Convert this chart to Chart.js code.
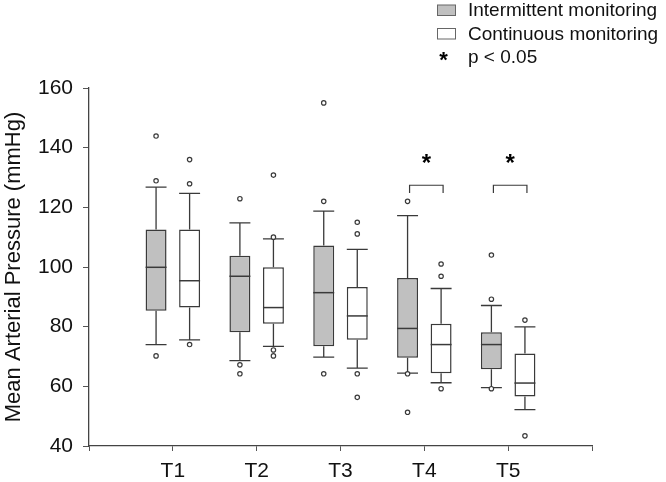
<!DOCTYPE html>
<html>
<head>
<meta charset="utf-8">
<script src="https://cdn.jsdelivr.net/npm/chart.js@4.4.1/dist/chart.umd.min.js"></script>
<style>
  html, body { margin: 0; padding: 0; background: #fff; }
  #wrap { width: 666px; height: 482px; }
</style>
</head>
<body>
<div id="wrap"><canvas id="chart"></canvas></div>
<script>
// categories (time points)
const categories = ['T1', 'T2', 'T3', 'T4', 'T5'];

// Intermittent monitoring box plot values
const intLow    = [74.0, 68.6, 69.8, 64.4, 59.6];
const intQ1     = [85.3, 78.1, 73.4, 69.6, 65.7];
const intMedian = [99.9, 96.9, 91.4, 79.4, 74.0];
const intQ3     = [112.6, 103.8, 107.2, 96.3, 78.1];
const intHigh   = [126.8, 114.8, 118.7, 117.2, 87.1];
const intOutliers = [
  [143.9, 128.9, 70.2],
  [122.9, 67.2, 64.2],
  [155.0, 122.0, 64.2],
  [122.0, 64.2, 51.3],
  [104.0, 89.2, 59.2]
];

// Continuous monitoring box plot values
const conLow    = [75.6, 73.4, 66.1, 61.2, 52.2];
const conQ1     = [86.4, 81.0, 75.6, 64.4, 56.6];
const conMedian = [95.4, 86.4, 83.6, 74.0, 61.1];
const conQ3     = [112.6, 99.9, 93.3, 81.0, 71.0];
const conHigh   = [124.7, 109.4, 105.9, 92.8, 79.9];
const conOutliers = [
  [136.0, 127.9, 74.0],
  [130.8, 110.0, 72.2, 70.2],
  [115.0, 111.1, 64.2, 56.3],
  [101.0, 96.9, 59.2],
  [82.2, 43.4]
];

// significance markers
const sigCategories = ['T4', 'T5'];
const sigBracketTop = 127.4;
const sigBracketLeg = 124.8;

// y axis ticks
const yMin = 40, yMax = 160, yStep = 20;

const FONT = "'Liberation Sans', Arial, sans-serif";
const LINE = '#3a3a3a';
const GRAY = '#c0c0c0';

const boxes = [
  { low: intLow, q1: intQ1, med: intMedian, q3: intQ3, high: intHigh, out: intOutliers },
  { low: conLow, q1: conQ1, med: conMedian, q3: conQ3, high: conHigh, out: conOutliers }
];

const boxPlugin = {
  id: 'boxDetails',
  afterDatasetsDraw(chart) {
    const ctx = chart.ctx;
    const y = chart.scales.y;
    ctx.save();
    ctx.strokeStyle = LINE;
    boxes.forEach((b, d) => {
      const meta = chart.getDatasetMeta(d);
      meta.data.forEach((bar, i) => {
        const x = bar.x, half = bar.width / 2;
        const pLow = y.getPixelForValue(b.low[i]);
        const pHigh = y.getPixelForValue(b.high[i]);
        const pQ1 = y.getPixelForValue(b.q1[i]);
        const pQ3 = y.getPixelForValue(b.q3[i]);
        const pMed = y.getPixelForValue(b.med[i]);
        ctx.lineWidth = 1.3;
        ctx.beginPath();
        ctx.moveTo(x, pQ3); ctx.lineTo(x, pHigh);
        ctx.moveTo(x, pQ1); ctx.lineTo(x, pLow);
        ctx.moveTo(x - half, pHigh); ctx.lineTo(x + half, pHigh);
        ctx.moveTo(x - half, pLow); ctx.lineTo(x + half, pLow);
        ctx.stroke();
        ctx.lineWidth = 1.5;
        ctx.beginPath();
        ctx.moveTo(x - half, pMed); ctx.lineTo(x + half, pMed);
        ctx.stroke();
        ctx.lineWidth = 1.2;
        b.out[i].forEach(v => {
          ctx.beginPath();
          ctx.arc(x, y.getPixelForValue(v), 2.2, 0, Math.PI * 2);
          ctx.fillStyle = '#fff';
          ctx.fill();
          ctx.stroke();
        });
      });
    });

    // significance brackets
    const m0 = chart.getDatasetMeta(0), m1 = chart.getDatasetMeta(1);
    sigCategories.forEach(c => {
      const i = categories.indexOf(c);
      const x1 = m0.data[i].x + 2, x2 = m1.data[i].x + 2;
      const pt = y.getPixelForValue(sigBracketTop);
      const pl = y.getPixelForValue(sigBracketLeg);
      ctx.lineWidth = 1.2;
      ctx.beginPath();
      ctx.moveTo(x1, pl); ctx.lineTo(x1, pt); ctx.lineTo(x2, pt); ctx.lineTo(x2, pl);
      ctx.stroke();
      ctx.fillStyle = '#000';
      ctx.font = 'bold 24px ' + FONT;
      ctx.textAlign = 'center';
      ctx.textBaseline = 'alphabetic';
      ctx.fillText('*', (x1 + x2) / 2, pt - 14);
    });
    ctx.restore();
  }
};

const legendItems = [
  { label: 'Intermittent monitoring', fill: GRAY },
  { label: 'Continuous monitoring', fill: '#fff' },
  { label: 'p < 0.05', star: true }
];

const legendPlugin = {
  id: 'sideLegend',
  afterDraw(chart) {
    const ctx = chart.ctx;
    const textX = 468, boxX = 437.5, top = 10, gap = 23.5;
    ctx.save();
    ctx.font = '19px ' + FONT;
    ctx.textBaseline = 'middle';
    legendItems.forEach((it, k) => {
      const cy = top + k * gap;
      if (it.star) {
        ctx.fillStyle = '#000';
        ctx.font = 'bold 22px ' + FONT;
        ctx.textAlign = 'center';
        ctx.textBaseline = 'alphabetic';
        ctx.fillText('*', boxX + 6, cy + 10);
        ctx.font = '19px ' + FONT;
        ctx.textBaseline = 'middle';
      } else {
        ctx.fillStyle = it.fill;
        ctx.fillRect(boxX, cy - 5, 18, 10.5);
        ctx.strokeStyle = '#666';
        ctx.lineWidth = 1;
        ctx.strokeRect(boxX, cy - 5, 18, 10.5);
      }
      ctx.fillStyle = '#111';
      ctx.textAlign = 'left';
      ctx.fillText(it.label, textX, cy + 1);
    });
    ctx.restore();
  }
};

function makeData(q1, q3) {
  return categories.map((c, i) => ({ x: i + 1, y: [q1[i], q3[i]] }));
}

new Chart(document.getElementById('chart'), {
  type: 'bar',
  data: {
    datasets: [
      { label: 'Intermittent monitoring', data: makeData(intQ1, intQ3),
        backgroundColor: GRAY, borderColor: LINE, borderWidth: 1.5, borderSkipped: false },
      { label: 'Continuous monitoring', data: makeData(conQ1, conQ3),
        backgroundColor: '#fff', borderColor: LINE, borderWidth: 1.5, borderSkipped: false }
    ]
  },
  options: {
    responsive: true,
    maintainAspectRatio: false,
    animation: false,
    categoryPercentage: 0.8,
    barPercentage: 0.625,
    layout: { padding: { top: 88, right: 74, left: 0, bottom: 0 } },
    plugins: { legend: { display: false }, tooltip: { enabled: false } },
    scales: {
      x: {
        type: 'linear', min: 0, max: 6, offset: false,
        afterFit(scale) { scale.height = 36; },
        ticks: {
          stepSize: 1, padding: 8, color: '#111',
          font: { family: FONT, size: 21 },
          callback: v => categories[v - 1] || ''
        },
        grid: { offset: false, drawOnChartArea: false, drawTicks: true, tickLength: 5, color: '#555' },
        border: { display: true, color: '#444', width: 1.3 }
      },
      y: {
        min: yMin, max: yMax,
        afterFit(scale) { scale.width = 89; },
        ticks: { stepSize: yStep, padding: 10, color: '#111', font: { family: FONT, size: 21 } },
        grid: { drawOnChartArea: false, drawTicks: true, tickLength: 6, color: '#555' },
        border: { display: true, color: '#444', width: 1.3 },
        title: {
          display: true, text: 'Mean Arterial Pressure (mmHg)', color: '#111',
          font: { family: FONT, size: 22 }, padding: { top: 1, bottom: 0 }
        }
      }
    }
  },
  plugins: [boxPlugin, legendPlugin]
});
</script>
</body>
</html>
